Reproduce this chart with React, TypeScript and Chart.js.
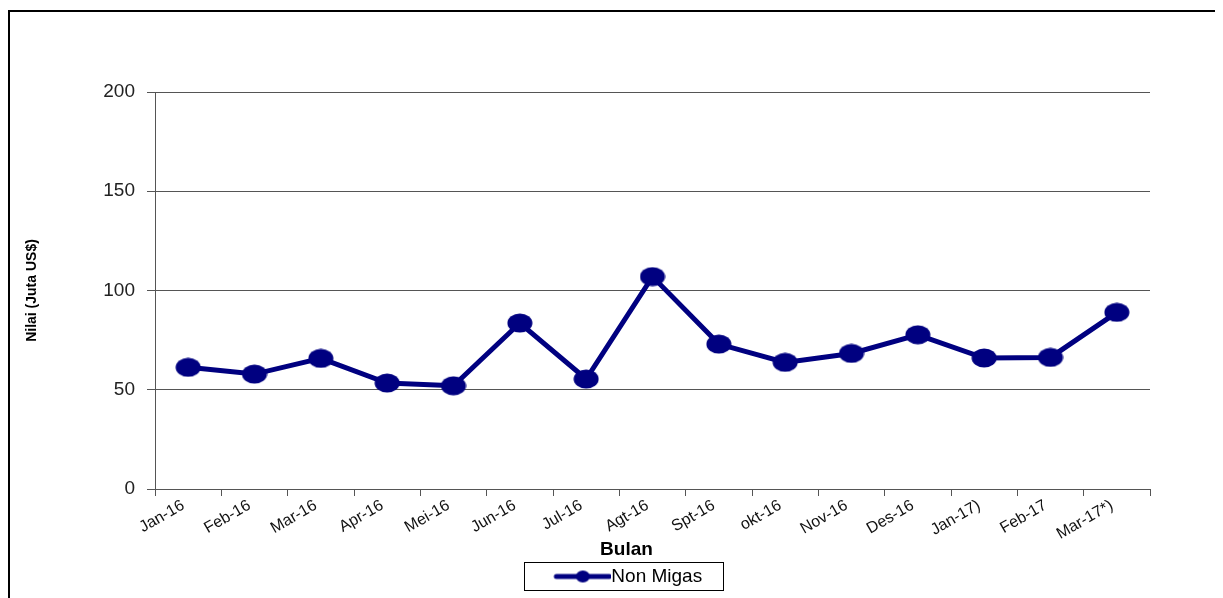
import React, { useEffect, useRef } from "react";
import { Chart, registerables } from "chart.js";

Chart.register(...registerables);

const months = [
  "Jan-16", "Feb-16", "Mar-16", "Apr-16", "Mei-16", "Jun-16", "Jul-16", "Agt-16",
  "Spt-16", "okt-16", "Nov-16", "Des-16", "Jan-17)", "Feb-17", "Mar-17*)",
];
const nonMigas = [61.3, 57.9, 65.8, 53.4, 52.0, 83.6, 55.4, 107.0, 73.0, 63.8, 68.3, 77.7, 66.0, 66.3, 89.0];
const yTicks = [0, 50, 100, 150, 200];
const xTitle = "Bulan";

const NAVY = "#000080";
const FONT = "'Liberation Sans', Arial, sans-serif";
const LEGEND_FONT = 19;
const PSW = 144;
const LINE_LEN = 57;

function makeEllipse(w: number, h: number) {
  const c = document.createElement("canvas");
  c.width = w;
  c.height = h;
  const ctx = c.getContext("2d")!;
  ctx.fillStyle = NAVY;
  ctx.beginPath();
  ctx.ellipse(w / 2, h / 2, w / 2 - 0.5, h / 2 - 0.5, 0, 0, Math.PI * 2);
  ctx.fill();
  return c;
}

function makeLegendLine(total: number, lineLen: number, h: number) {
  const c = document.createElement("canvas");
  c.width = total;
  c.height = h;
  const ctx = c.getContext("2d")!;
  const startX = total - lineLen;
  ctx.strokeStyle = NAVY;
  ctx.lineWidth = 5;
  ctx.lineCap = "round";
  ctx.beginPath();
  ctx.moveTo(startX + 2, h / 2);
  ctx.lineTo(total - 2, h / 2);
  ctx.stroke();
  ctx.fillStyle = NAVY;
  ctx.beginPath();
  ctx.ellipse(startX + lineLen / 2, h / 2, 7, 6, 0, 0, Math.PI * 2);
  ctx.fill();
  return c;
}

const extras = {
  id: "extras",
  afterDraw(chart: any) {
    const ctx = chart.ctx;
    const lg = chart.legend;
    if (lg && lg.legendHitBoxes && lg.legendHitBoxes.length) {
      const hb = lg.legendHitBoxes[0];
      ctx.save();
      ctx.strokeStyle = "#000";
      ctx.lineWidth = 1;
      const l = Math.round(hb.left + PSW + LEGEND_FONT / 2 - LINE_LEN - 29) - 0.5;
      const r = Math.round(hb.left + hb.width + 21) + 0.5;
      const t = Math.round(hb.top - 4) - 0.5;
      const b = Math.round(hb.top + hb.height + 4) + 0.5;
      ctx.strokeRect(l, t, r - l, b - t);
      ctx.restore();
    }
    const xs = chart.scales.x;
    if (xs) {
      ctx.save();
      ctx.fillStyle = "#000";
      ctx.font = `bold 19px ${FONT}`;
      ctx.textAlign = "center";
      ctx.textBaseline = "middle";
      ctx.fillText(xTitle, (xs.left + xs.right) / 2 - 26, xs.bottom - 11);
      ctx.restore();
    }
  },
};

export default function App() {
  const ref = useRef<HTMLCanvasElement>(null);

  useEffect(() => {
    document.body.style.overflow = "hidden";
    const pointImg = makeEllipse(26, 20);
    const legendImg = makeLegendLine(PSW + LEGEND_FONT, LINE_LEN, 16);
    const chart = new Chart(ref.current!, {
      type: "line",
      data: {
        labels: months,
        datasets: [
          {
            label: "Non Migas",
            data: nonMigas,
            borderColor: NAVY,
            backgroundColor: NAVY,
            borderWidth: 5,
            pointStyle: pointImg as any,
            pointRadius: 12,
            tension: 0,
          },
        ],
      },
      options: {
        animation: false,
        responsive: false,
        layout: { padding: { top: 80, right: 73, bottom: 2, left: 0 } },
        plugins: {
          tooltip: { enabled: false },
          legend: {
            position: "bottom",
            labels: {
              usePointStyle: true,
              pointStyle: legendImg as any,
              pointStyleWidth: PSW,
              padding: 6,
              color: "#000",
              font: { family: FONT, size: LEGEND_FONT },
            },
          },
        },
        scales: {
          x: {
            type: "category",
            offset: true,
            afterFit: (s: any) => {
              s.height = 72;
            },
            grid: {
              offset: true,
              drawOnChartArea: false,
              drawTicks: true,
              tickLength: 7,
              color: "#555",
            },
            border: { display: true, color: "#555", width: 1 },
            ticks: {
              autoSkip: false,
              minRotation: 30,
              maxRotation: 30,
              padding: 0,
              labelOffset: -5,
              color: "#111",
              font: { family: FONT, size: 16 },
            },
          },
          y: {
            min: 0,
            max: 200,
            afterFit: (s: any) => {
              s.width = 145;
            },
            afterBuildTicks: (s: any) => {
              s.ticks = yTicks.map((v) => ({ value: v }));
            },
            grid: {
              drawTicks: true,
              tickLength: 8,
              color: "#555",
              lineWidth: 1,
            },
            border: { display: true, color: "#555", width: 1 },
            ticks: {
              padding: 12,
              color: "#222",
              font: { family: FONT, size: 19 },
            },
            title: {
              display: true,
              text: "Nilai (Juta US$)",
              color: "#000",
              font: { family: FONT, size: 14, weight: "bold" },
              padding: { top: 14, bottom: 0 },
            },
          },
        },
      },
      plugins: [extras],
    });
    return () => chart.destroy();
  }, []);

  return (
    <div
      style={{
        marginTop: 2,
        borderTop: "2px solid #000",
        borderLeft: "2px solid #000",
        width: 1213,
        height: 586,
        position: "relative",
      }}
    >
      <canvas ref={ref} width={1213} height={586} style={{ display: "block" }} />
    </div>
  );
}
